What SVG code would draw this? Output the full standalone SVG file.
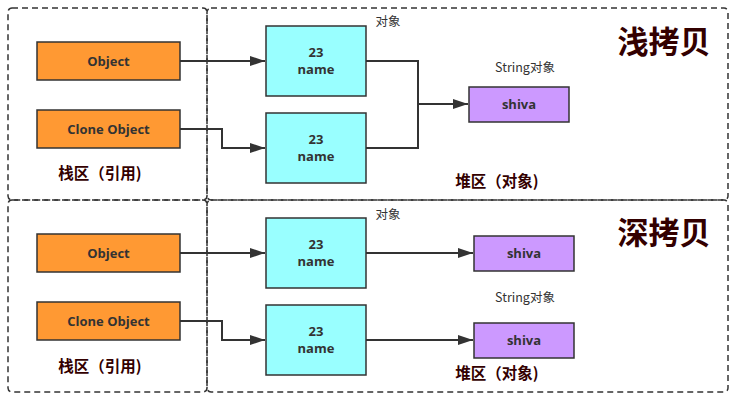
<svg xmlns="http://www.w3.org/2000/svg" width="741" height="401" viewBox="0 0 741 401">
<defs>
<marker id="arr" markerWidth="15" markerHeight="10" refX="15" refY="5" orient="auto" markerUnits="userSpaceOnUse">
<path d="M0,0 L15,5 L0,10 Z" fill="#333333"/>
</marker>
<style>
.zone{fill:none;stroke:#333333;stroke-width:1.5;stroke-dasharray:6 4}
.ref{fill:#FF9933;stroke:#333333;stroke-width:1.5}
.obj{fill:#99FFFF;stroke:#333333;stroke-width:1.5}
.str{fill:#CC99FF;stroke:#333333;stroke-width:1.5}
.t{font-family:"Open Sans","Noto Sans","Noto Sans CJK SC",sans-serif;font-weight:bold;font-size:13px;fill:#333333;text-anchor:middle}
.lbl{font-family:"Noto Sans CJK SC",sans-serif;font-size:12.5px;fill:#333333;text-anchor:middle}
.area{font-family:"Noto Sans CJK SC",sans-serif;font-weight:bold;font-size:15.5px;fill:#330000;text-anchor:middle}
.title{font-family:"Noto Sans CJK SC",sans-serif;font-weight:bold;font-size:31px;fill:#330000;text-anchor:middle}
.c{fill:none;stroke:#333333;stroke-width:2}
</style>
</defs>
<rect width="741" height="401" fill="#ffffff"/>
<g id="zones">
<rect class="zone" x="8" y="8" width="199" height="192" rx="4"/>
<rect class="zone" x="207" y="8" width="521" height="192" rx="4"/>
<rect class="zone" x="8" y="200" width="199" height="192" rx="4"/>
<rect class="zone" x="207" y="200" width="521" height="192" rx="4"/>
</g>
<g id="connectors">
<path class="c" d="M180,61 H265" marker-end="url(#arr)"/>
<path class="c" d="M180,129 H222 V148 H265" marker-end="url(#arr)"/>
<path class="c" d="M366,61 H418 V148 H366"/>
<path class="c" d="M418,104 H468" marker-end="url(#arr)"/>
<path class="c" d="M180,253 H265" marker-end="url(#arr)"/>
<path class="c" d="M180,321 H222 V340 H265" marker-end="url(#arr)"/>
<path class="c" d="M366,253 H473" marker-end="url(#arr)"/>
<path class="c" d="M366,340 H473" marker-end="url(#arr)"/>
</g>
<g id="shallow-object">
<rect class="ref" x="37" y="42" width="143" height="38"/>
<text class="t" x="108.5" y="65.5">Object</text>
</g>
<g id="shallow-clone">
<rect class="ref" x="37" y="110" width="143" height="38"/>
<text class="t" x="108.5" y="133.5">Clone Object</text>
</g>
<g id="shallow-obj1">
<rect class="obj" x="266" y="26" width="100" height="70"/>
<text class="t" x="316" y="57">23</text>
<text class="t" x="316" y="74">name</text>
</g>
<g id="shallow-obj2">
<rect class="obj" x="266" y="113" width="100" height="70"/>
<text class="t" x="316" y="144">23</text>
<text class="t" x="316" y="161">name</text>
</g>
<g id="shallow-string">
<rect class="str" x="469" y="87" width="100" height="35"/>
<text class="t" x="519" y="109">shiva</text>
</g>
<g id="deep-object">
<rect class="ref" x="37" y="234" width="143" height="38"/>
<text class="t" x="108.5" y="257.5">Object</text>
</g>
<g id="deep-clone">
<rect class="ref" x="37" y="302" width="143" height="38"/>
<text class="t" x="108.5" y="325.5">Clone Object</text>
</g>
<g id="deep-obj1">
<rect class="obj" x="266" y="218" width="100" height="70"/>
<text class="t" x="316" y="249">23</text>
<text class="t" x="316" y="266">name</text>
</g>
<g id="deep-obj2">
<rect class="obj" x="266" y="305" width="100" height="70"/>
<text class="t" x="316" y="336">23</text>
<text class="t" x="316" y="353">name</text>
</g>
<g id="deep-string1">
<rect class="str" x="474" y="236" width="100" height="35"/>
<text class="t" x="524" y="258">shiva</text>
</g>
<g id="deep-string2">
<rect class="str" x="474" y="323" width="100" height="35"/>
<text class="t" x="524" y="345">shiva</text>
</g>
<g id="labels">
<text class="lbl" x="388" y="26">对象</text>
<text class="lbl" x="525" y="72">String对象</text>
<text class="lbl" x="388" y="219">对象</text>
<text class="lbl" x="525" y="302">String对象</text>
<text class="area" x="100" y="179">栈区（引用)</text>
<text class="area" x="497" y="187">堆区（对象)</text>
<text class="area" x="100" y="372">栈区（引用)</text>
<text class="area" x="497" y="379">堆区（对象)</text>
<text class="title" x="664" y="53">浅拷贝</text>
<text class="title" x="664" y="244">深拷贝</text>
</g>
</svg>
